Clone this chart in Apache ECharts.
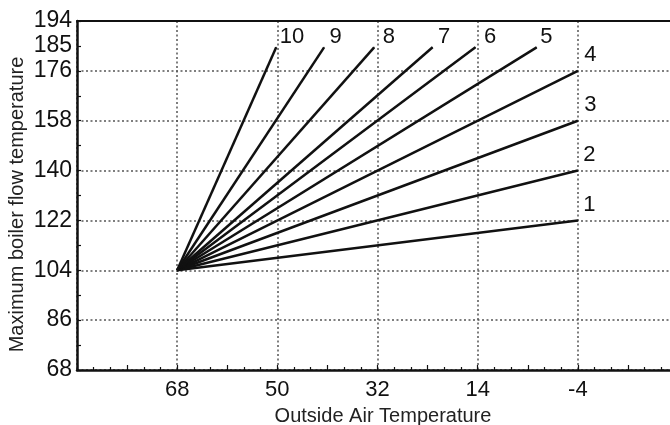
<!DOCTYPE html>
<html>
<head>
<meta charset="utf-8">
<script src="https://cdn.jsdelivr.net/npm/echarts@6/dist/echarts.min.js"></script>
<style>html,body{margin:0;padding:0;background:#fff}#c{width:670px;height:425px}</style>
</head>
<body>
<div id="c"></div>
<script>
// ---- data ----
const curveNames = ['1','2','3','4','5','6','7','8','9','10'];
const startOutside = 68;     // °F outside, where all curves begin
const startFlow = 104;       // °F flow at start
const endOutside = [-4, -4, -4, -4, 3.4, 14.4, 22.1, 32.6, 41.6, 50.2];
const endFlow = [122, 140, 158, 176, 184.5, 184.5, 184.5, 184.5, 184.5, 184.5];
const xTickLabels = [68, 50, 32, 14, -4];
const yTickLabels = [68, 86, 104, 122, 140, 158, 176, 185, 194];

// ---- label placement (style, not data) ----
const labelOffsets = [[6,-26],[6,-26],[7,-26],[7,-26],[4,-21],[9,-21],[6,-21],[9,-21],[6,-21],[4,-21]];

const FONT = 'Liberation Sans, Arial, Helvetica, sans-serif';
const grid = {left: 77, top: 21, width: 601, height: 349, containLabel: false, outerBoundsMode: 'none'};
const dotted = {show: true, lineStyle: {color: '#555', width: 1.5, type: [2, 2.5]}};

const series = curveNames.map((n, i) => ({
  type: 'line',
  name: n,
  xAxisIndex: 0, yAxisIndex: 0,
  showSymbol: true,
  symbol: 'circle',
  symbolSize: 1,
  itemStyle: {color: '#111'},
  lineStyle: {color: '#111', width: 2.5},
  emphasis: {disabled: true},
  z: 5,
  data: [
    {value: [startOutside, startFlow], symbol: 'none'},
    {value: [endOutside[i], endFlow[i]],
     label: {show: true, formatter: n, position: labelOffsets[i], align: 'left', verticalAlign: 'top',
             color: '#111', fontSize: 22, fontFamily: FONT}}
  ]
}));

const chart = echarts.init(document.getElementById('c'), null, {renderer: 'canvas'});
chart.setOption({
  animation: false,
  backgroundColor: '#fff',
  grid: grid,
  xAxis: [
    {
      type: 'value', inverse: true, min: -22, max: 86, interval: 9, position: 'bottom',
      name: 'Outside Air Temperature', nameLocation: 'middle', nameGap: 36, nameMoveOverlap: false,
      nameTextStyle: {fontSize: 20, fontFamily: FONT, color: '#222', padding: [0, 0, 0, 11]},
      axisLine: {show: true, onZero: false, lineStyle: {color: '#111', width: 2.5}},
      axisTick: {show: true, inside: true, length: 5, lineStyle: {color: '#111', width: 1.2}},
      minorTick: {show: true, splitNumber: 3, length: 3, lineStyle: {color: '#111', width: 1.2}},
      axisLabel: {show: true, margin: 9, fontSize: 22, fontFamily: FONT, color: '#111',
        showMinLabel: true, showMaxLabel: true,
        formatter: v => xTickLabels.includes(v) ? String(v) : ''},
      splitLine: {show: false}
    },
    {
      type: 'value', inverse: true, min: -22, max: 86, interval: 18, position: 'top',
      axisLine: {show: true, onZero: false, lineStyle: {color: '#111', width: 2}},
      axisTick: {show: false}, axisLabel: {show: false},
      splitLine: dotted
    }
  ],
  yAxis: [
    {
      type: 'value', min: 68, max: 194, interval: 9, position: 'left',
      name: 'Maximum boiler flow temperature', nameLocation: 'middle', nameGap: 50, nameRotate: 90,
      nameMoveOverlap: false,
      nameTextStyle: {fontSize: 20, fontFamily: FONT, color: '#222', padding: [0, 18, 0, 0]},
      axisLine: {show: true, onZero: false, lineStyle: {color: '#111', width: 2.5}},
      axisTick: {show: true, inside: true, length: 4, lineStyle: {color: '#111', width: 1.2}},
      axisLabel: {show: true, margin: 5, fontSize: 23, fontFamily: FONT, color: '#111',
        showMinLabel: true, showMaxLabel: true,
        formatter: v => yTickLabels.includes(v) ? String(v) : ''},
      splitLine: {show: false}
    },
    {
      type: 'value', min: 68, max: 194, interval: 18, position: 'right',
      axisLine: {show: false}, axisTick: {show: false}, axisLabel: {show: false},
      splitLine: dotted
    }
  ],
  series: series
});
</script>
</body>
</html>
